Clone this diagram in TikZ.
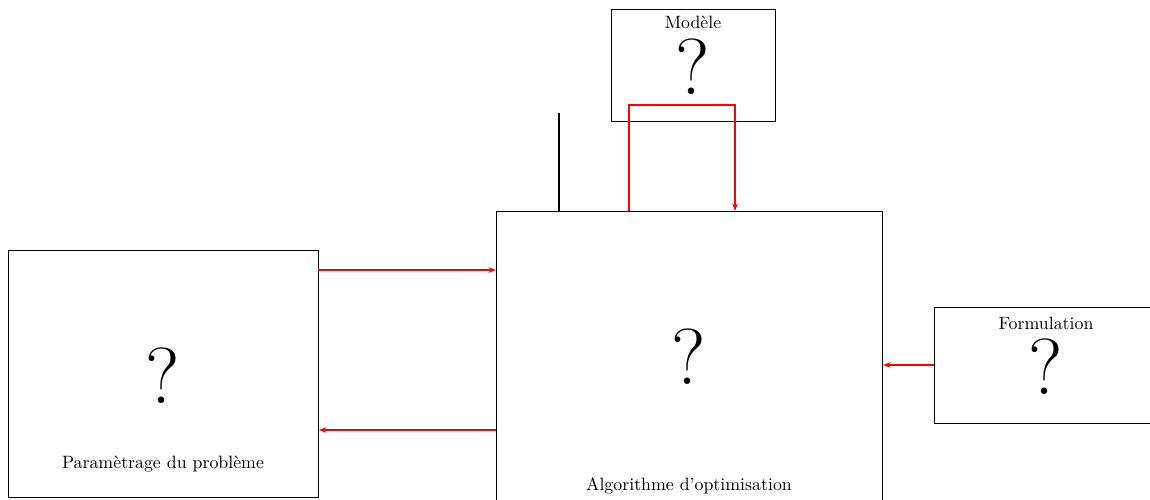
\documentclass[tikz,border=0pt]{standalone}
\usetikzlibrary{arrows.meta}
\begin{document}
\begin{tikzpicture}[x=0.561pt,y=-0.561pt,
  box/.style={draw,line width=0.52pt,inner sep=0pt,anchor=north west},
  qmark/.style={font=\fontsize{44.5}{44.5}\selectfont,inner sep=0pt},
  lbl/.style={font=\normalsize,inner sep=0pt},
  redarrow/.style={draw=red,line width=0.95pt,-{Stealth[length=4.2pt,width=3.1pt]}}]
\useasboundingbox (0,0) rectangle (1150,499);
\clip (0,0) rectangle (1150,499);
% boxes
\node[box,minimum width=164*0.561pt,minimum height=112*0.561pt] (mod) at (611,9) {};
\node[box,minimum width=310*0.561pt,minimum height=247*0.561pt] (par) at (8,250) {};
\node[box,minimum width=386*0.561pt,minimum height=320*0.561pt] (alg) at (496,211) {};
\node[box,minimum width=224*0.561pt,minimum height=116*0.561pt] (for) at (934,307) {};
% texts
\node[lbl] (modt) at (693,22) {Modèle};
\node[qmark] (modq) at (693,67) {?};
\node[qmark] (parq) at (163,376) {?};
\node[lbl] (part) at (163,464) {Paramètrage du problème};
\node[qmark] (algq) at (689,357) {?};
\node[lbl] (algt) at (689,486) {Algorithme d'optimisation};
\node[lbl] (fort) at (1046,323) {Formulation};
\node[qmark] (forq) at (1046,367) {?};
% connectors
\coordinate (vt) at (559,113);
\draw[line width=1.05pt] (vt) -- (vt |- alg.north);
\coordinate (r1) at (629,105);
\coordinate (r2) at (735,105);
\draw[redarrow] (r1 |- alg.north) -- (r1) -- (r2) -- (r2 |- alg.north);
\coordinate (a1) at (318,270);
\draw[redarrow] (a1) -- (a1 -| alg.west);
\coordinate (a2) at (496,430);
\draw[redarrow] (a2) -- (a2 -| par.east);
\coordinate (a3) at (934,365);
\draw[redarrow] (a3) -- (a3 -| alg.east);
\end{tikzpicture}
\end{document}
